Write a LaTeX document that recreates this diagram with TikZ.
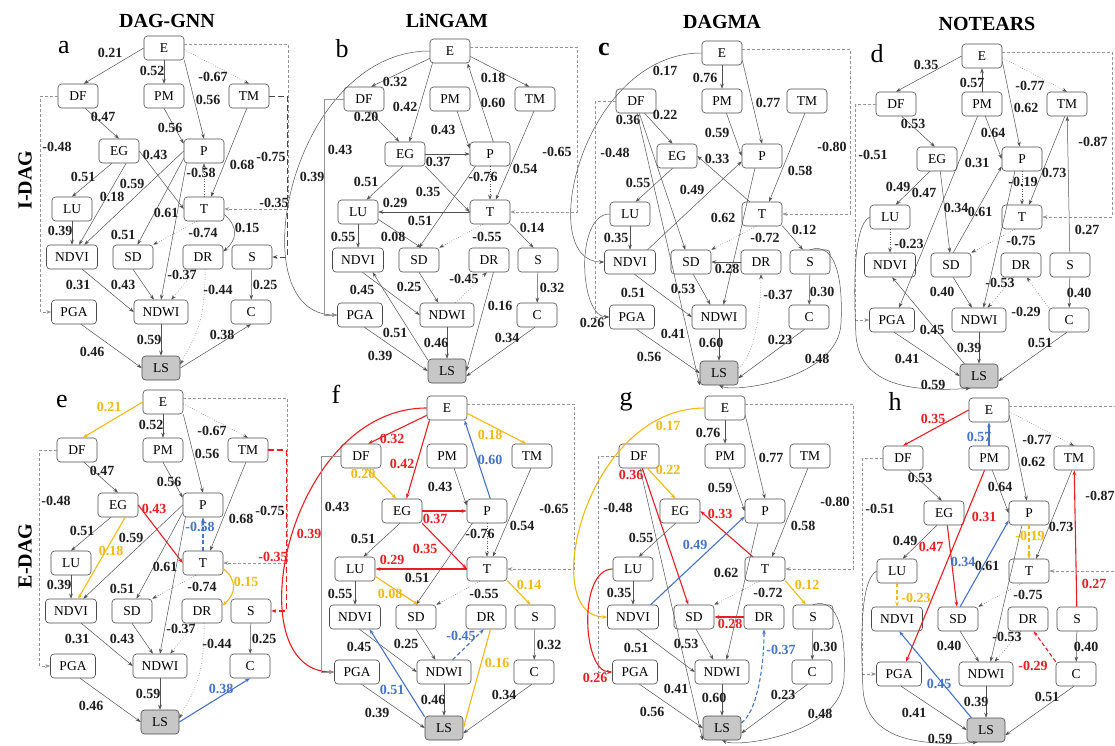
\documentclass[tikz,border=0pt]{standalone}
\usepackage{fontspec}
\setmainfont{Liberation Serif}
\usetikzlibrary{arrows.meta,calc}
\definecolor{myred}{RGB}{232,30,37}
\definecolor{myyel}{RGB}{240,185,20}
\definecolor{myblue}{RGB}{70,115,195}

\newcommand\mkpanel[1]{%
 \node[bx] (#1E) at (0,0) {E};
 \node[bx] (#1DF) at (-86,48) {DF};
 \node[bx] (#1PM) at (0,48) {PM};
 \node[bx] (#1TM) at (85,48) {TM};
 \node[bx] (#1EG) at (-45,103) {EG};
 \node[bx] (#1P) at (40,103) {P};
 \node[bx] (#1LU) at (-92,161) {LU};
 \node[bx] (#1T) at (40,161) {T};
 \node[bx,minimum width=51pt] (#1NDVI) at (-92,209) {NDVI};
 \node[bx] (#1SD) at (-31,209) {SD};
 \node[bx] (#1DR) at (39,209) {DR};
 \node[bx] (#1S) at (88,209) {S};
 \node[bx,minimum width=45pt] (#1PGA) at (-90,264) {PGA};
 \node[bx,minimum width=54pt] (#1NDWI) at (-3,264) {NDWI};
 \node[bx] (#1C) at (87,264) {C};
 \node[bx,minimum width=38pt,fill=black!22] (#1LS) at (-3,320) {LS};
}

% DAG-GNN
\newcommand\algA[1]{%
 \draw[ed,hY] (#1E.west) -- (#1DF.65);
 \node[lb,lY] (#1l1) at (-54,5) {0.21};
 \draw[ed] (#1E) -- (#1PM);
 \node[lb] (#1l2) at (-12,23) {0.52};
 \draw[ed] (#1E.south east) -- (#1P.north);
 \node[lb] (#1l3) at (44,52) {0.56};
 \draw[ed,dt] (#1E.-5) -- (#1TM.north);
 \node[lb] (#1l4) at (49,29) {-0.67};
 \draw[ed,ds,lg] (#1E.10) -- ++(104,0) |- (#1T.east);
 \node[lb,lR] (#1l5) at (110,155) {-0.35};
 \draw[ed,dash pattern=on 6pt off 3pt,line width=1pt,draw=black!72,hR] (#1TM.east) -- ++(18,0) |- (#1S.east);
 \node[lb] (#1l6) at (107,109) {-0.75};
 \draw[ed] (#1DF.-60) -- (#1EG.north);
 \node[lb] (#1l7) at (-61,69) {0.47};
 \draw[ed,ds,lg] (#1DF.west) -- ++(-17,0) |- (#1PGA.west);
 \node[lb] (#1l8) at (-107,99) {-0.48};
 \draw[ed] (#1PM.south) -- (#1P.160);
 \node[lb] (#1l9) at (6,80) {0.56};
 \draw[ed] (#1TM.-100) -- (#1T.60);
 \node[lb] (#1l10) at (78,117) {0.68};
 \draw[ed,hR] (#1EG.east) -- (#1T.west);
 \node[lb,lR] (#1l11) at (-9,107) {0.43};
 \draw[ed] (#1EG.-120) -- (#1LU.north);
 \node[lb] (#1l12) at (-81,129) {0.51};
 \draw[ed,hY] (#1EG.-60) -- (#1NDVI.60);
 \node[lb,lY] (#1l13) at (-52,149) {0.18};
 \draw[ed] (#1P.west) -- (#1NDVI.45);
 \node[lb] (#1l14) at (-32,136) {0.59};
 \draw[ed] (#1P.200) -- (#1SD.70);
 \node[lb] (#1l15) at (-41,187) {0.51};
 \draw[ed] (#1P.-145) -- (#1NDWI.north);
 \node[lb] (#1l16) at (2,165) {0.61};
 \draw[ed,dt,hB,hD] (#1T.north) -- (#1P.south);
 \node[lb,lB] (#1l17) at (37,125) {-0.58};
 \draw[ed,dt] (#1T.-120) -- (#1SD.north east);
 \node[lb] (#1l18) at (39,185) {-0.74};
 \draw[ed,hY] (#1T.-15) .. controls +(14,12) and +(14,-12) .. (#1DR.15);
 \node[lb,lY] (#1l19) at (83,180) {0.15};
 \draw[ed] (#1LU) -- (#1NDVI);
 \node[lb] (#1l20) at (-104,183) {0.39};
 \draw[ed] (#1NDVI.-50) -- (#1NDWI.west);
 \node[lb] (#1l21) at (-86,237) {0.31};
 \draw[ed] (#1SD.south) -- (#1NDWI.120);
 \node[lb] (#1l22) at (-41,237) {0.43};
 \draw[ed,dt] (#1DR.-120) -- (#1NDWI.50);
 \node[lb] (#1l23) at (18,227) {-0.37};
 \draw[ed,dt] (#1DR.-80) .. controls +(0,60) and +(12,-25) .. (#1LS.10);
 \node[lb] (#1l24) at (54,242) {-0.44};
 \draw[ed] (#1S) -- (#1C);
 \node[lb] (#1l25) at (101,237) {0.25};
 \draw[ed] (#1NDWI) -- (#1LS);
 \node[lb] (#1l26) at (-15,292) {0.59};
 \draw[ed] (#1PGA.-60) -- (#1LS.west);
 \node[lb] (#1l27) at (-72,304) {0.46};
 \draw[ed,hB] (#1LS.east) -- (#1C.south);
 \node[lb,lB] (#1l28) at (58,287) {0.38};
}

% LiNGAM
\newcommand\algB[1]{%
 \draw[ed,hR] (#1E.200) -- (#1DF.60);
 \node[lb,lR] (#1l1) at (-55,31) {0.32};
 \draw[ed,hR] (#1E.-145) -- (#1EG.70);
 \node[lb,lR] (#1l2) at (-45,56) {0.42};
 \draw[ed,hR] (#1E.west) .. controls +(-140,0) and +(-100,0) .. (#1PGA.west);
 \node[lb,lR] (#1l3) at (-138,126) {0.39};
 \draw[ed,hY] (#1E.-15) -- (#1TM.115);
 \node[lb,lY] (#1l4) at (43,27) {0.18};
 \draw[ed,hB] (#1P.75) -- (#1E.-35);
 \node[lb,lB] (#1l5) at (43,52) {0.60};
 \draw[ed,ds,lg] (#1E.10) -- ++(107,0) |- (#1T.east);
 \node[lb] (#1l6) at (107,101) {-0.65};
 \draw[ed,hY] (#1DF.-65) -- (#1EG.115);
 \node[lb,lY] (#1l7) at (-84,66) {0.20};
 \draw[ed,lg] (#1DF.west) -- ++(-19,0) |- (#1PGA.west);
 \node[lb] (#1l8) at (-110,99) {0.43};
 \draw[ed] (#1PM.-60) -- (#1P.165);
 \node[lb] (#1l9) at (-7,79) {0.43};
 \draw[ed,hR] (#1EG.east) -- (#1P.west);
 \node[lb,lR] (#1l10) at (-12,111) {0.37};
 \draw[ed,hR] (#1EG.south east) -- (#1T.west);
 \node[lb,lR] (#1l11) at (-22,141) {0.35};
 \draw[ed] (#1EG.-100) -- (#1LU.55);
 \node[lb] (#1l12) at (-84,131) {0.51};
 \draw[ed] (#1TM.-95) -- (#1T.65);
 \node[lb] (#1l13) at (75,118) {0.54};
 \draw[ed,dt] (#1P) -- (#1T);
 \node[lb] (#1l14) at (33,126) {-0.76};
 \draw[ed] (#1P.-140) -- (#1SD.north);
 \node[lb] (#1l15) at (-30,170) {0.51};
 \draw[ed,hR] (#1T.west) -- (#1LU.east);
 \node[lb,lR] (#1l16) at (-55,152) {0.29};
 \draw[ed,hY] (#1LU.-20) -- (#1SD.80);
 \node[lb,lY] (#1l17) at (-57,186) {0.08};
 \draw[ed] (#1LU) -- (#1NDVI);
 \node[lb] (#1l18) at (-107,186) {0.55};
 \draw[ed,dt] (#1T.-120) -- (#1SD.north east);
 \node[lb] (#1l19) at (37,186) {-0.55};
 \draw[ed,hY] (#1T.-30) -- (#1S.110);
 \node[lb,lY] (#1l20) at (82,177) {0.14};
 \draw[ed] (#1NDVI.-70) -- (#1NDWI.west);
 \node[lb] (#1l21) at (-88,239) {0.45};
 \draw[ed] (#1SD.south) -- (#1NDWI.125);
 \node[lb] (#1l22) at (-41,236) {0.25};
 \draw[ed,dt,hB,hD] (#1NDWI.55) -- (#1DR.-100);
 \node[lb,lB] (#1l23) at (14,228) {-0.45};
 \draw[ed,hY] (#1DR.-70) -- (#1LS.east);
 \node[lb,lY] (#1l24) at (50,255) {0.16};
 \draw[ed] (#1S) -- (#1C);
 \node[lb] (#1l25) at (102,237) {0.32};
 \draw[ed,hB] (#1LS.150) -- (#1NDVI.-40);
 \node[lb,lB] (#1l26) at (-55,282) {0.51};
 \draw[ed] (#1PGA.-70) -- (#1LS.west);
 \node[lb] (#1l27) at (-70,305) {0.39};
 \draw[ed] (#1NDWI) -- (#1LS);
 \node[lb] (#1l28) at (-14,292) {0.46};
 \draw[ed] (#1C.-100) -- (#1LS.-15);
 \node[lb] (#1l29) at (57,287) {0.34};
}

% DAGMA
\newcommand\algC[1]{%
 \draw[ed,hY] (#1E.west) .. controls +(-120,0) and +(-70,0) .. (#1NDVI.west);
 \node[lb,lY] (#1l1) at (-57,18) {0.17};
 \draw[ed] (#1E) -- (#1PM);
 \node[lb] (#1l2) at (-17,25) {0.76};
 \draw[ed] (#1E.-20) -- (#1P.north);
 \node[lb] (#1l3) at (46,50) {0.77};
 \draw[ed,ds,lg] (#1E.10) -- ++(108,0) |- (#1T.east);
 \node[lb] (#1l4) at (110,94) {-0.80};
 \draw[ed,hY] (#1DF.-55) -- (#1EG.110);
 \node[lb,lY] (#1l5) at (-57,62) {0.22};
 \draw[ed,hR] (#1DF.-75) -- (#1SD.115);
 \node[lb,lR] (#1l6) at (-94,67) {0.36};
 \draw[ed] (#1DF.-85) -- (#1LS.south west);
 \node[lb] (#1l7) at (-49,281) {0.41};
 \draw[ed,ds,lg] (#1DF.west) -- ++(-20,0) |- (#1PGA.west);
 \node[lb] (#1l8) at (-107,100) {-0.48};
 \draw[ed] (#1PM.-70) -- (#1P.west);
 \node[lb] (#1l9) at (-5,80) {0.59};
 \draw[ed,hR] (#1T.135) -- (#1EG.east);
 \node[lb,lR] (#1l10) at (-5,106) {0.33};
 \draw[ed,hB] (#1NDVI.35) -- (#1P.195);
 \node[lb,lB] (#1l11) at (-30,137) {0.49};
 \draw[ed] (#1EG.-110) -- (#1LU.65);
 \node[lb] (#1l12) at (-84,130) {0.55};
 \draw[ed] (#1TM.-100) -- (#1T.60);
 \node[lb] (#1l13) at (78,118) {0.58};
 \draw[ed] (#1P.-120) -- (#1NDWI.70);
 \node[lb] (#1l14) at (1,165) {0.62};
 \draw[ed,dt] (#1T.-115) -- (#1SD.north east);
 \node[lb] (#1l15) at (43,185) {-0.72};
 \draw[ed,hY] (#1T.-30) -- (#1S.120);
 \node[lb,lY] (#1l16) at (82,177) {0.12};
 \draw[ed] (#1LU) -- (#1NDVI);
 \node[lb] (#1l17) at (-106,185) {0.35};
 \draw[ed,hR] (#1LU.west) .. controls +(-35,0) and +(-30,0) .. (#1PGA.west);
 \node[lb,lR] (#1l18) at (-130,270) {0.26};
 \draw[ed,hR] (#1DR.west) -- (#1SD.east);
 \node[lb,lR] (#1l19) at (5,216) {0.28};
 \draw[ed] (#1S) -- (#1C);
 \node[lb] (#1l20) at (100,239) {0.30};
 \draw[ed] (#1S.north) .. controls (115,188) and (121,230) .. (119,270) .. controls (117,325) and (15,340) .. (#1LS.south);
 \node[lb] (#1l21) at (95,306) {0.48};
 \draw[ed] (#1NDVI.-70) -- (#1NDWI.west);
 \node[lb] (#1l22) at (-89,240) {0.51};
 \draw[ed] (#1SD.-80) -- (#1NDWI.125);
 \node[lb] (#1l23) at (-39,236) {0.53};
 \draw[ed,dt,hB,hD] (#1LS.15) .. controls +(15,-10) and +(0,40) .. (#1DR.south);
 \node[lb,lB] (#1l24) at (56,242) {-0.37};
 \draw[ed] (#1PGA.-70) -- (#1LS.west);
 \node[lb] (#1l25) at (-73,304) {0.56};
 \draw[ed] (#1NDWI) -- (#1LS);
 \node[lb] (#1l26) at (-11,290) {0.60};
 \draw[ed] (#1C.-110) -- (#1LS.-15);
 \node[lb] (#1l27) at (58,287) {0.23};
}

% NOTEARS
\newcommand\algD[1]{%
 \draw[ed,hR] (#1E.west) -- (#1DF.north);
 \node[lb,lR] (#1l1) at (-56,9) {0.35};
 \draw[ed,hB] (#1PM) -- (#1E);
 \node[lb,lB] (#1l2) at (-10,27) {0.57};
 \draw[ed] (#1E.-15) -- (#1P.100);
 \node[lb] (#1l3) at (44,52) {0.62};
 \draw[ed,dt] (#1E.-5) -- (#1TM.north);
 \node[lb] (#1l4) at (48,30) {-0.77};
 \draw[ed,ds,lg] (#1E.10) -- ++(110,0) |- (#1T.east);
 \node[lb] (#1l5) at (111,86) {-0.87};
 \draw[ed] (#1DF.-65) -- (#1EG.100);
 \node[lb] (#1l6) at (-69,68) {0.53};
 \draw[ed,ds,lg] (#1DF.west) -- ++(-20,0) |- (#1PGA.west);
 \node[lb] (#1l7) at (-109,99) {-0.51};
 \draw[ed] (#1PM.-75) -- (#1P.west);
 \node[lb] (#1l8) at (11,77) {0.64};
 \draw[ed,hR] (#1PM.-110) -- (#1PGA.60);
 \node[lb,lR] (#1l9) at (-5,107) {0.31};
 \draw[ed] (#1EG.-120) -- (#1LU.65);
 \node[lb] (#1l10) at (-84,131) {0.49};
 \draw[ed,hR] (#1EG.-75) -- (#1SD.95);
 \node[lb,lR] (#1l11) at (-58,137) {0.47};
 \draw[ed,hB] (#1SD.80) -- (#1P.200);
 \node[lb,lB] (#1l12) at (-26,152) {0.34};
 \draw[ed] (#1P.-120) -- (#1NDWI.70);
 \node[lb] (#1l13) at (-2,156) {0.61};
 \draw[ed,dt,hY,hD] (#1P) -- (#1T);
 \node[lb,lY] (#1l14) at (41,126) {-0.19};
 \draw[ed] (#1TM.-100) -- (#1T.60);
 \node[lb] (#1l15) at (72,117) {0.73};
 \draw[ed,hR] (#1S) -- (#1TM);
 \node[lb,lR] (#1l16) at (105,174) {0.27};
 \draw[ed,dt,hY,hD] (#1LU) -- (#1NDVI);
 \node[lb,lY] (#1l17) at (-73,188) {-0.23};
 \draw[ed] (#1LU.west) .. controls (-130,170) and (-128,240) .. (-126,280) .. controls (-122,330) and (-70,336) .. (#1LS.-125);
 \node[lb] (#1l18) at (-49,329) {0.59};
 \draw[ed,dt] (#1T.-120) -- (#1SD.north east);
 \node[lb] (#1l19) at (39,185) {-0.75};
 \draw[ed] (#1SD.-80) -- (#1NDWI.120);
 \node[lb] (#1l20) at (-40,236) {0.40};
 \draw[ed,dt] (#1DR.-120) -- (#1NDWI.55);
 \node[lb] (#1l21) at (18,227) {-0.53};
 \draw[ed,dt,hR,hD] (#1C.north west) -- (#1DR.-65);
 \node[lb,lR] (#1l22) at (44,256) {-0.29};
 \draw[ed] (#1S) -- (#1C);
 \node[lb] (#1l23) at (97,237) {0.40};
 \draw[ed,hB] (#1LS.140) -- (#1NDVI.-80);
 \node[lb,lB] (#1l24) at (-50,274) {0.45};
 \draw[ed] (#1PGA.-80) -- (#1LS.west);
 \node[lb] (#1l25) at (-75,303) {0.41};
 \draw[ed] (#1NDWI) -- (#1LS);
 \node[lb] (#1l26) at (-13,292) {0.39};
 \draw[ed] (#1C.-100) -- (#1LS.-15);
 \node[lb] (#1l27) at (58,287) {0.51};
}

\begin{document}
\begin{tikzpicture}[x=1pt,y=-1pt,
  bx/.style={draw=black!70, line width=0.6pt, rounded corners=3.5pt, minimum width=40pt, minimum height=24pt, inner sep=1pt, fill=white, font=\fontsize{13.5}{14}\selectfont},
  ed/.style={draw=black!68, line width=0.5pt, -{Stealth[length=5pt,width=3.6pt]}},
  dt/.style={dotted},
  ds/.style={dash pattern=on 3pt off 2pt},
  lg/.style={draw=black!42},
  lb/.style={font=\bfseries\fontsize{14}{14}\selectfont, inner sep=0pt, text=black!88},
  ttl/.style={font=\bfseries\fontsize{20}{20}\selectfont, anchor=base},
  plet/.style={font=\fontsize{26}{26}\selectfont, anchor=base},
  rowtop/.style={hR/.style={},hY/.style={},hB/.style={},hD/.style={},lR/.style={},lY/.style={},lB/.style={}},
  rowbot/.style={hR/.style={draw=myred,line width=1.1pt},hY/.style={draw=myyel,line width=1.1pt},hB/.style={draw=myblue,line width=1.1pt},hD/.style={dash pattern=on 4pt off 2.5pt},lR/.style={text=myred},lY/.style={text=myyel},lB/.style={text=myblue}}]
\useasboundingbox (0,0) rectangle (1115,745);
\fill[white] (0,0) rectangle (1115,745);

% headings
\node[ttl] (h1) at (167,27) {DAG-GNN};
\node[ttl] (h2) at (447,27) {LiNGAM};
\node[ttl] (h3) at (722,28) {DAGMA};
\node[ttl] (h4) at (987,30) {NOTEARS};
\node[font=\bfseries\fontsize{20}{20}\selectfont, rotate=90] (r1) at (25,180) {I-DAG};
\node[font=\bfseries\fontsize{20}{20}\selectfont, rotate=90] (r2) at (25,556) {E-DAG};

\node[plet] (pa) at (64,53) {a};
\node[plet] (pb) at (342,57) {b};
\node[plet,font=\bfseries\fontsize{26}{26}\selectfont] (pc) at (604,55) {c};
\node[plet] (pd) at (877,62) {d};
\node[plet] (pe) at (62,407) {e};
\node[plet] (pf) at (336,403) {f};
\node[plet] (pg) at (626,405) {g};
\node[plet] (ph) at (895,410) {h};

\begin{scope}[shift={(164,48)},rowtop]\mkpanel{a}\algA{a}\end{scope}
\begin{scope}[shift={(450,51)},rowtop]\mkpanel{b}\algB{b}\end{scope}
\begin{scope}[shift={(722,53)},rowtop]\mkpanel{c}\algC{c}\end{scope}
\begin{scope}[shift={(982,56)},rowtop]\mkpanel{d}\algD{d}\end{scope}
\begin{scope}[shift={(163,402)},rowbot]\mkpanel{e}\algA{e}\end{scope}
\begin{scope}[shift={(447,408)},rowbot]\mkpanel{f}\algB{f}\end{scope}
\begin{scope}[shift={(725,408)},rowbot]\mkpanel{g}\algC{g}\end{scope}
\begin{scope}[shift={(989,410)},rowbot]\mkpanel{h}\algD{h}\end{scope}
\end{tikzpicture}
\end{document}
